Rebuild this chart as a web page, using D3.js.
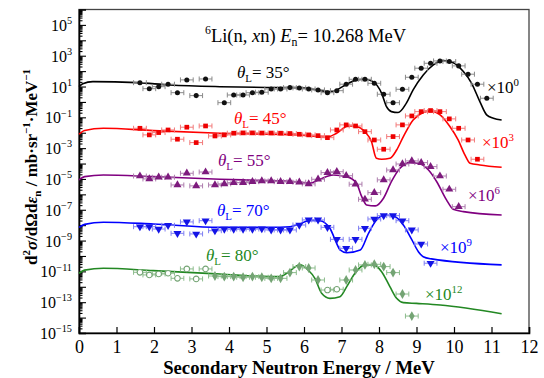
<!DOCTYPE html>
<html>
<head>
<meta charset="utf-8">
<script src="https://cdn.jsdelivr.net/npm/d3@7"></script>
<style>
  body { margin: 0; background: #fff; }
  svg text, svg tspan { font-family: "Liberation Serif", "Times New Roman", Times, serif !important; }
</style>
</head>
<body>
<svg id="chart" width="544" height="378" font-family="Liberation Serif"></svg>
<script>
// values are log10 of d2sigma/dOmega/de as plotted (already multiplied by the offset factor)
const angles = ["35", "45", "55", "70", "80"]
const factors = ["0", "3", "6", "9", "12"]
const xTicks = [0, 1, 2, 3, 4, 5, 6, 7, 8, 9, 10, 11, 12]
const yLabelExps = [5, 3, 1, -1, -3, -5, -7, -9, -11, -13, -15]

// experimental points (bin centres)
const pointE = [1.625, 1.875, 2.125, 2.375, 2.625, 2.875, 3.125, 3.375, 3.625, 3.875,
  4.125, 4.375, 4.625, 4.875, 5.125, 5.375, 5.625, 5.875, 6.125, 6.375,
  6.625, 6.875, 7.125, 7.375, 7.625, 7.875, 8.125, 8.375, 8.625, 8.875,
  9.125, 9.375, 9.625, 9.875, 10.125, 10.375, 10.625, 10.875]
const pointErr = 0.17

const pts35 = [1.25, 0.86, 0.99, 1.15, 0.60, 1.43, 0.41, 1.49, null, -0.05,
  0.45, 0.45, 0.60, 0.63, 0.84, 0.84, 0.93, 0.91, 0.84, 0.78,
  0.60, 0.73, 1.15, 1.47, 1.47, 1.21, 0.50, -0.05, 0.82, 1.60,
  2.19, 2.51, 2.66, 2.62, 2.34, 1.80, 1.15, 0.24]
const pts45 = [-1.71, -2.14, -1.99, -1.82, -2.42, -1.64, -2.64, -1.56, -2.21, -2.14,
  -2.03, -2.01, -2.01, -2.02, -2.02, -2.03, -2.05, -2.10, -2.14, -2.19,
  -2.32, -1.82, -1.49, -1.56, -1.93, -2.47, -3.07, -2.25, -1.49, -0.91,
  -0.63, -0.56, -0.63, -1.10, -1.71, -2.47, -3.72, null]
const pts55 = [-4.81, -5.00, -4.89, -4.89, -5.39, -4.63, -5.45, -4.55, -5.39, -5.32,
  -5.24, -5.24, -5.18, -5.13, -5.13, -5.18, -5.18, -5.21, -5.32, -5.02,
  -4.59, -4.53, -4.79, -5.34, -6.32, -5.89, -5.06, -4.42, -4.03, -3.83,
  -3.94, -4.20, -4.81, -5.67, -6.80, null, null, null]
const pts70 = [-8.10, -8.10, -8.25, -8.01, -8.53, -7.79, -8.57, -7.71, -8.36, -8.25,
  -8.25, -8.25, -8.25, -8.23, -8.31, -8.31, -8.31, -7.99, -7.66, -7.66,
  -8.14, -8.92, -9.50, -8.92, -8.20, -7.60, -7.38, -7.38, -7.71, -8.31,
  -9.22, -10.47, null, null, null, null, null, null]
const pts80 = [-11.06, -11.23, -11.17, -11.12, -11.45, -10.84, -11.49, -10.84, -11.30, -11.34,
  -11.34, -11.38, -11.34, -11.38, -11.45, -11.45, -11.08, -10.69, -10.78, -11.56,
  -12.21, -12.16, -11.56, -10.91, -10.58, -10.54, -10.69, -11.08, -12.47, -13.90,
  null, null, null, null, null, null, null, null]
// 80 deg points drawn as open circles (other set)
const openE80 = [1.625, 1.875, 2.125, 2.375, 2.625, 2.875, 3.125, 3.375, 6.625, 6.875]

// calculated spectra
const curve35E = [0, 0.1, 0.37, 1.55, 2.43, 3.76, 5.0, 5.89, 6.34, 6.69, 6.87, 7.14, 7.4, 7.62, 7.84,
  8.07, 8.2, 8.33, 8.51, 8.73, 8.91, 9.18, 9.45, 9.71, 9.98, 10.25, 10.47, 10.69, 10.87, 11.05, 11.27]
const curve35 = [0.99, 1.18, 1.32, 1.25, 1.10, 0.99, 0.94, 0.93, 0.78, 0.67, 0.78, 1.15, 1.43, 1.47, 1.32,
  0.56, -0.31, -0.63, -0.69, -0.08, 0.78, 1.75, 2.40, 2.68, 2.55, 1.97, 1.21, 0.02, -0.84, -1.06, -1.17]
const curve45E = [0, 0.15, 0.65, 1.98, 3.76, 5.89, 6.6, 6.87, 7.18, 7.4, 7.62, 7.8, 7.93, 8.07,
  8.29, 8.47, 8.65, 8.91, 9.18, 9.36, 9.63, 9.89, 10.11, 10.29, 10.43, 10.69, 11.27]
const curve45 = [-2.10, -1.85, -1.71, -1.86, -2.03, -2.14, -2.29, -2.03, -1.56, -1.60, -1.93, -2.58, -3.66, -3.72,
  -3.66, -3.12, -2.25, -1.17, -0.69, -0.58, -0.84, -1.60, -2.47, -3.44, -3.98, -4.09, -4.24]
const curve55E = [0, 0.15, 0.65, 1.98, 3.76, 5.09, 5.8, 6.15, 6.42, 6.78, 7.14, 7.4, 7.54, 7.67,
  7.9, 8.12, 8.33, 8.56, 8.83, 9.05, 9.32, 9.54, 9.8, 9.98, 10.25, 11.27]
const curve55 = [-5.06, -4.85, -4.74, -4.85, -5.02, -5.11, -5.18, -5.28, -5.02, -4.74, -4.85, -5.28, -6.15, -6.69,
  -6.75, -6.25, -5.18, -4.31, -3.94, -3.98, -4.42, -5.18, -6.36, -6.97, -7.12, -7.34]
const curve70E = [0, 0.15, 0.65, 1.98, 3.76, 5.09, 5.63, 5.89, 6.15, 6.42, 6.69, 6.87, 6.96, 7.14,
  7.5, 7.72, 7.9, 8.16, 8.43, 8.65, 8.87, 9.05, 9.18, 9.4, 11.27]
const curve70 = [-8.14, -7.95, -7.81, -7.92, -8.14, -8.14, -8.10, -7.92, -7.69, -7.71, -8.20, -9.18, -9.61, -9.79,
  -9.61, -8.53, -7.77, -7.34, -7.45, -7.99, -8.92, -9.72, -10.05, -10.19, -10.58]
const curve80E = [0, 0.15, 0.65, 1.98, 3.76, 5.09, 5.36, 5.54, 5.89, 6.11, 6.29, 6.47, 6.69, 6.96,
  7.14, 7.36, 7.62, 7.85, 8.07, 8.29, 8.47, 8.65, 9.0, 9.63, 11.27]
const curve80 = [-11.12, -10.92, -10.80, -10.95, -11.17, -11.34, -11.34, -11.12, -10.58, -10.91, -11.45, -12.42, -12.75, -12.64,
  -11.99, -11.12, -10.58, -10.58, -11.02, -11.99, -12.75, -13.03, -13.08, -13.18, -13.75]

const W = 544, H = 378
const margin = {left: 79, right: 15, top: 9.5, bottom: 45}
const FONT = "Liberation Serif, Times New Roman, serif"

const series = [
  {curveE: curve35E, curve: curve35, pts: pts35, line: "#000", mark: "#111", bar: "#8a8a8a", sym: "circle",
    label: [237, 78], fac: [487, 93]},
  {curveE: curve45E, curve: curve45, pts: pts45, line: "#ff0000", mark: "#ee0000", bar: "#f27a7a", sym: "square",
    label: [234, 124], fac: [482, 148]},
  {curveE: curve55E, curve: curve55, pts: pts55, line: "#800080", mark: "#7d1b7d", bar: "#ad7dad", sym: "triUp",
    label: [218, 166], fac: [468, 201]},
  {curveE: curve70E, curve: curve70, pts: pts70, line: "#0000ff", mark: "#1414e6", bar: "#7f7ff2", sym: "triDown",
    label: [217, 216], fac: [440, 253]},
  {curveE: curve80E, curve: curve80, pts: pts80, line: "#238823", mark: "#74a474", bar: "#8cbc8c", sym: "diamond",
    label: [206, 261], fac: [425, 300]},
]

const svg = d3.select("#chart")

const x = d3.scaleLinear().domain([0, 12]).range([margin.left, W - margin.right])
const y = d3.scaleLog().domain([1e-15, 1e6]).range([H - margin.bottom, margin.top])

// rich text: parts = [{t, sup, sub, it}]
function rich(sel, parts, size) {
  sel.attr("font-family", FONT)
  let shift = 0
  parts.forEach(p => {
    const target = p.sup ? -size * 0.42 : p.sub ? size * 0.22 : 0
    sel.append("tspan")
      .attr("dy", target - shift)
      .attr("font-size", (p.sup || p.sub) ? size * 0.64 : size)
      .attr("font-style", p.it ? "italic" : null)
      .text(p.t)
    shift = target
  })
  return sel
}

// frame
svg.append("rect")
  .attr("x", margin.left).attr("y", margin.top)
  .attr("width", W - margin.left - margin.right)
  .attr("height", H - margin.top - margin.bottom)
  .attr("fill", "none").attr("stroke", "#444").attr("stroke-width", 1.3)

// x axis
const xAxis = svg.append("g")
  .attr("transform", `translate(0,${H - margin.bottom})`)
  .call(d3.axisBottom(x).tickValues(xTicks).tickSize(-6).tickPadding(7).tickFormat(d3.format("d")))
  .attr("font-family", FONT)
xAxis.select(".domain").attr("stroke", "#000").attr("stroke-width", 1.6)
xAxis.selectAll(".tick line").attr("stroke-width", 1.2)
xAxis.selectAll("text").attr("font-size", 18).attr("fill", "#000").attr("font-family", FONT)

// y axis: majors every decade, minors 2..9
const decades = d3.range(-15, 6).map(e => Math.pow(10, e))
const minors = []
decades.forEach(d => { for (let k = 2; k <= 9; k++) if (d * k < 1e6) minors.push(d * k) })

const yAxis = svg.append("g").attr("transform", `translate(${margin.left},0)`)
yAxis.append("g").call(d3.axisLeft(y).tickValues(minors).tickSize(-3.5).tickFormat(""))
  .call(g => g.select(".domain").remove())
yAxis.append("g").call(d3.axisLeft(y).tickValues(decades).tickSize(-7).tickFormat(""))
  .call(g => g.select(".domain").attr("stroke-width", 1.6))
yAxis.selectAll(".tick line").attr("stroke-width", 1.1)

svg.append("g").selectAll("text")
  .data(yLabelExps)
  .join("text")
  .attr("x", 72)
  .attr("y", e => y(Math.pow(10, e)) + 6)
  .attr("text-anchor", "end")
  .attr("fill", "#000")
  .each(function (e) {
    rich(d3.select(this), [{t: "10"}, {t: (e < 0 ? "\u2212" : "") + Math.abs(e), sup: true}], 16)
  })

// axis titles
rich(svg.append("text")
  .attr("x", 299).attr("y", 374)
  .attr("text-anchor", "middle").attr("font-weight", "bold"),
  [{t: "Secondary Neutron Energy / MeV"}], 18.7)

rich(svg.append("text")
  .attr("transform", "translate(37,167) rotate(-90)")
  .attr("text-anchor", "middle").attr("font-weight", "bold"),
  [{t: "d"}, {t: "2", sup: true}, {t: "\u03c3", it: true}, {t: "/d\u03a9d"}, {t: "\u03b5", it: true},
   {t: "n", sub: true}, {t: " / mb\u00b7sr"}, {t: "\u22121", sup: true}, {t: "\u00b7MeV"}, {t: "\u22121", sup: true}], 17)

// title
rich(svg.append("text").attr("x", 205).attr("y", 42),
  [{t: "6", sup: true}, {t: "Li(n, "}, {t: "x", it: true}, {t: "n) "}, {t: "E", it: true},
   {t: "n", sub: true}, {t: "= 10.268 MeV"}], 18.5)

// curves and points
const line = d3.line()
  .x(d => x(d[0]))
  .y(d => y(Math.pow(10, d[1])))
  .curve(d3.curveMonotoneX)

const symbols = {
  circle: d3.symbol(d3.symbolCircle, 20),
  square: d3.symbol(d3.symbolSquare, 22),
  triUp: d3.symbol(d3.symbolTriangle, 28),
  triDown: d3.symbol(d3.symbolTriangle, 28),
  diamond: d3.symbol(d3.symbolDiamond, 28),
}

series.forEach((s, i) => {
  const g = svg.append("g")

  g.append("path")
    .datum(s.curveE.map((e, j) => [e, s.curve[j]]))
    .attr("fill", "none")
    .attr("stroke", s.line)
    .attr("stroke-width", 1.6)
    .attr("d", line)

  const pts = pointE.map((e, j) => [e, s.pts[j]]).filter(d => d[1] != null)

  const bars = g.append("g").attr("stroke", s.bar).attr("stroke-width", 1)
  bars.selectAll("path")
    .data(pts)
    .join("path")
    .attr("d", d => {
      const x0 = x(d[0] - pointErr), x1 = x(d[0] + pointErr), yy = y(Math.pow(10, d[1]))
      return `M${x0},${yy}H${x1}M${x0},${yy - 2.5}V${yy + 2.5}M${x1},${yy - 2.5}V${yy + 2.5}`
    })

  const marks = g.append("g").selectAll("g")
    .data(pts)
    .join("g")
    .attr("transform", d => `translate(${x(d[0])},${y(Math.pow(10, d[1]))})`)

  if (i === 4) {
    marks.filter(d => openE80.includes(d[0]))
      .append("circle").attr("r", 2.8).attr("fill", "#fff")
      .attr("stroke", s.mark).attr("stroke-width", 1.1)
    marks.filter(d => !openE80.includes(d[0]))
      .append("path").attr("d", symbols.diamond()).attr("fill", s.mark)
  } else {
    marks.append("path")
      .attr("d", symbols[s.sym]())
      .attr("transform", s.sym === "triDown" ? "rotate(180)" : null)
      .attr("fill", s.mark)
  }

  // angle label
  rich(svg.append("text").attr("x", s.label[0]).attr("y", s.label[1]).attr("fill", s.line),
    [{t: "\u03b8", it: true}, {t: "L", sub: true}, {t: "= " + angles[i] + "\u00b0"}], 17)

  // scale factor label
  rich(svg.append("text").attr("x", s.fac[0]).attr("y", s.fac[1]).attr("fill", s.line),
    [{t: "\u00d710"}, {t: factors[i], sup: true}], 17)
})
</script>
</body>
</html>
